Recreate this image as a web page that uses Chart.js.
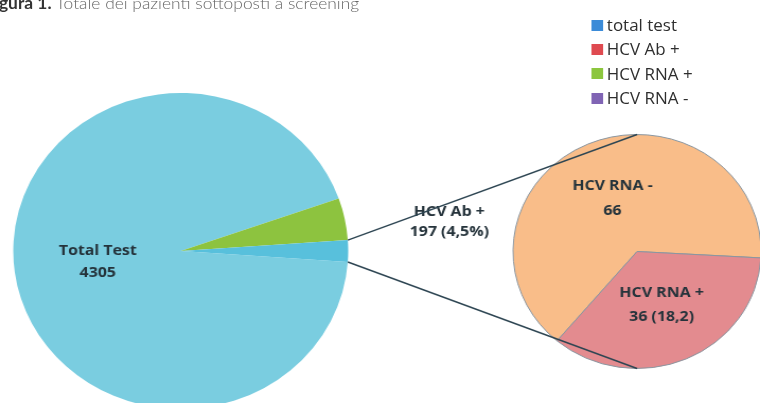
<!DOCTYPE html>
<html>
<head>
<meta charset="utf-8">
<script src="https://cdn.jsdelivr.net/npm/chart.js@4/dist/chart.umd.min.js"></script>
<style>
  html, body { margin: 0; padding: 0; width: 760px; height: 403px; overflow: hidden; background: #fff; }
  /* the whole figure is drawn 6% wider than tall */
  #stage { position: absolute; left: 0; top: 0; width: 717px; height: 403px; overflow: hidden;
           transform: scaleX(1.06); transform-origin: 0 0; }
  #title { position: absolute; left: -1px; top: -5px; font-family: Lato, sans-serif; font-size: 16.4px;
           line-height: 16px; color: #666; white-space: nowrap; font-weight: 300; }
  #title b { color: #333; font-weight: 700; }
  #legend { position: absolute; left: 558px; top: 13px; font-family: "Open Sans", sans-serif;
            font-size: 16px; color: #2e2e2e; }
  .item { height: 24.3px; display: flex; align-items: center; white-space: nowrap; }
  .sw { width: 10.5px; height: 11px; margin-right: 4px; flex: none; }
  canvas { position: absolute; }
</style>
</head>
<body>
<div id="stage">
  <div id="title"><b>gura 1.</b> Totale dei pazienti sottoposti a screening</div>
  <div id="legend"></div>
  <canvas id="mainPie" width="341" height="340" style="left:0px;top:81px;"></canvas>
  <canvas id="splitPie" width="240" height="241" style="left:481px;top:131px;"></canvas>
  <canvas id="overlay" width="717" height="403" style="left:0px;top:0px;"></canvas>
</div>
<script>
// Main pie: all screened patients; the last slice holds the HCV Ab + patients with an RNA result
const mainLabels = ['Total Test', 'HCV Ab +', 'HCV RNA'];
const mainValues = [4305, 197, 102];
const mainColors = ['#7acde0', '#8dc33f', '#58c0dc'];

// Secondary pie: RNA outcome
const splitLabels = ['HCV RNA -', 'HCV RNA +'];
const splitValues = [66, 36];
const splitColors = ['#f9bd89', '#e38b8f'];

// Percent shares as printed next to the counts
const abShare = '4,5%';
const rnaPosShare = '18,2';

// Legend entries
const legendNames = ['total test', 'HCV Ab +', 'HCV RNA +', 'HCV RNA -'];
const legendColors = ['#3b8bd8', '#df4a50', '#8cc63e', '#8064b4'];

// Legend
const legend = document.getElementById('legend');
legendNames.forEach((name, i) => {
  const row = document.createElement('div');
  row.className = 'item';
  const sw = document.createElement('span');
  sw.className = 'sw';
  sw.style.background = legendColors[i];
  const tx = document.createElement('span');
  tx.textContent = name;
  row.appendChild(sw);
  row.appendChild(tx);
  legend.appendChild(row);
});

const common = {
  responsive: false,
  animation: false,
  events: [],
  layout: { padding: 0 },
  plugins: { legend: { display: false }, tooltip: { enabled: false } }
};

const mainChart = new Chart(document.getElementById('mainPie'), {
  type: 'pie',
  data: {
    labels: mainLabels,
    datasets: [{ data: mainValues, backgroundColor: mainColors, borderWidth: 0 }]
  },
  options: Object.assign({}, common, { rotation: 94, radius: 158 })
});

const splitChart = new Chart(document.getElementById('splitPie'), {
  type: 'pie',
  data: {
    labels: splitLabels,
    datasets: [{ data: splitValues, backgroundColor: splitColors, borderWidth: 1, borderColor: '#8a96a0' }]
  },
  options: Object.assign({}, common, { rotation: 220.2, radius: 117 })
});

// Slice labels and connector lines, drawn across both pies
const labelFont = 'bold 15px "Open Sans", sans-serif';
const labelColor = '#25333b';
const mainText = [
  { lines: ['Total Test', String(mainValues[0])], dx: 0, dy: 0, gap: 22 },
  { lines: ['HCV Ab +', mainValues[1] + ' (' + abShare + ')'], dx: 176, dy: -13, gap: 20 },
  null
];
const splitText = [
  { lines: ['HCV RNA -', String(splitValues[0])], dx: 0, dy: 0, gap: 25 },
  { lines: ['HCV RNA +', splitValues[1] + ' (' + rnaPosShare + ')'], dx: 0, dy: 0, gap: 24 }
];

const ov = document.getElementById('overlay').getContext('2d');

function drawLabels(chart, texts) {
  const c = chart.canvas;
  chart.getDatasetMeta(0).data.forEach((arc, i) => {
    const t = texts[i];
    if (!t) return;
    const p = arc.getCenterPoint();
    const x = p.x + c.offsetLeft + t.dx;
    const y = p.y + c.offsetTop + t.dy;
    ov.font = labelFont;
    ov.fillStyle = labelColor;
    ov.textAlign = 'center';
    ov.textBaseline = 'middle';
    const n = t.lines.length;
    t.lines.forEach((s, k) => ov.fillText(s, x, y + (k - (n - 1) / 2) * t.gap));
  });
}

drawLabels(mainChart, mainText);
drawLabels(splitChart, splitText);

// connectors from the grouped slice of the main pie to the top and bottom of the secondary pie
const grp = mainChart.getDatasetMeta(0).data[2];
const mc = mainChart.canvas;
const gx = grp.x + mc.offsetLeft, gy = grp.y + mc.offsetTop, gr = grp.outerRadius;
const sArc = splitChart.getDatasetMeta(0).data[0];
const sc = splitChart.canvas;
const sx = sArc.x + sc.offsetLeft, sy = sArc.y + sc.offsetTop, sr = sArc.outerRadius;

ov.strokeStyle = '#2d4552';
ov.lineWidth = 1.4;
ov.beginPath();
ov.moveTo(gx + gr * Math.cos(grp.startAngle), gy + gr * Math.sin(grp.startAngle));
ov.lineTo(sx, sy - sr);
ov.moveTo(gx + gr * Math.cos(grp.endAngle), gy + gr * Math.sin(grp.endAngle));
ov.lineTo(sx, sy + sr);
ov.stroke();
</script>
</body>
</html>
